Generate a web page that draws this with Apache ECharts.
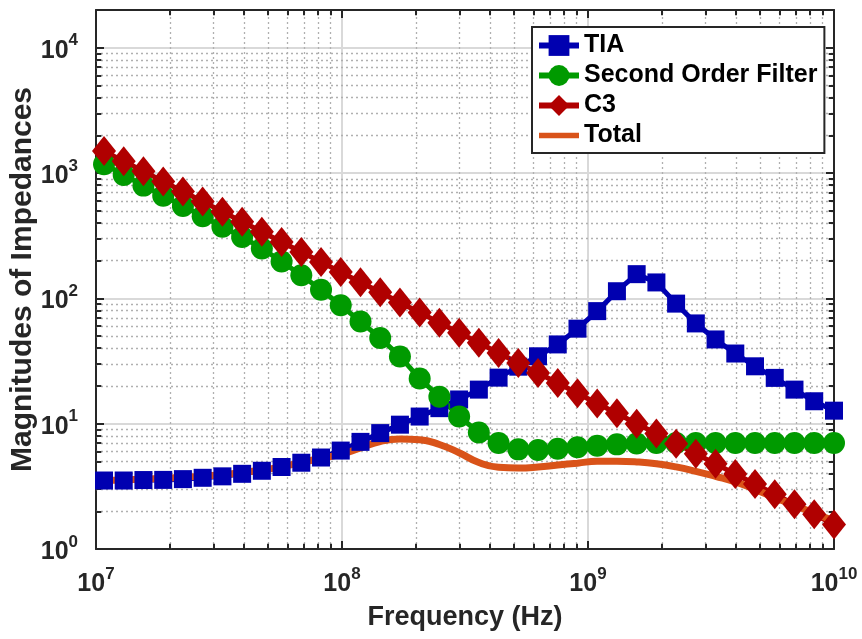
<!DOCTYPE html>
<html>
<head>
<meta charset="utf-8">
<script src="https://cdn.jsdelivr.net/npm/echarts@6/dist/echarts.min.js"></script>
<style>
  html, body { margin: 0; padding: 0; background: #fff; }
  #chart { width: 862px; height: 639px; }
</style>
</head>
<body>
<div id="chart"></div>
<script>
// frequency points (Hz)
const freq = [
    1.078e7, 1.296e7, 1.559e7, 1.876e7, 2.256e7, 2.714e7, 3.265e7, 3.927e7, 4.723e7, 5.681e7,
    6.833e7, 8.218e7, 9.883e7, 1.189e8, 1.430e8, 1.720e8, 2.069e8, 2.488e8, 2.993e8, 3.600e8,
    4.330e8, 5.208e8, 6.263e8, 7.534e8, 9.062e8, 1.090e9, 1.311e9, 1.577e9, 1.897e9, 2.281e9,
    2.744e9, 3.300e9, 3.970e9, 4.775e9, 5.743e9, 6.908e9, 8.309e9, 1.0e10
];
const tia = [
    3.52, 3.52, 3.55, 3.56, 3.61, 3.70, 3.80, 3.98, 4.21, 4.51,
    4.88, 5.37, 6.10, 7.16, 8.41, 9.82, 11.4, 13.3, 15.6, 18.7,
    23.3, 28.5, 34.5, 42.9, 57.3, 79.1, 114, 156, 134, 90.8,
    63.1, 47.0, 36.3, 28.7, 23.2, 18.7, 15.1, 12.7
];
const filter2 = [
    1175, 966, 794, 658, 546, 452, 373, 309, 250, 197,
    153, 117, 88.1, 65.3, 48.3, 34.4, 22.9, 16.4, 11.4, 8.51,
    7.00, 6.24, 6.17, 6.31, 6.49, 6.68, 6.84, 6.95, 7.01, 7.01,
    7.01, 7.01, 7.01, 7.01, 7.01, 7.01, 7.01, 7.01
];
const c3 = [
    1496, 1243, 1033, 858, 713, 592, 492, 409, 340, 282,
    234, 195, 162, 134.5, 111.7, 92.8, 77.1, 64.0, 53.2, 44.2,
    36.7, 30.5, 25.4, 21.1, 17.5, 14.5, 12.1, 10.0, 8.34, 6.93,
    5.75, 4.78, 3.97, 3.30, 2.74, 2.28, 1.89, 1.57
];
const totalFreq = [1.0e7].concat(freq);
const total = [
    3.50,
    3.51, 3.56, 3.61, 3.67, 3.73, 3.82, 3.91, 4.07, 4.27, 4.52,
    4.90, 5.30, 5.69, 6.40, 7.21, 7.55, 7.45, 6.82, 5.86, 4.90,
    4.49, 4.43, 4.51, 4.68, 4.84, 5.01, 5.01, 4.95, 4.79, 4.52,
    4.17, 3.80, 3.43, 2.99, 2.57, 2.24, 1.93, 1.68
];

const xMin = 1e7, xMax = 1e10;
const yMin = 1, yMax = 2e4;
const font = 'Liberation Sans, Arial, Helvetica, sans-serif';
const axisColor = '#262626';

function pairs(xs, ys) {
    return xs.map((x, i) => [x, ys[i]]);
}

function powLabel(v) {
    const e = Math.log10(v);
    const r = Math.round(e);
    if (Math.abs(e - r) > 1e-6) return '';
    return '{b|10}{s|' + r + '}';
}
const labelRich = {
    b: { fontSize: 25, fontWeight: 'bold', fontFamily: font, color: axisColor, lineHeight: 31, verticalAlign: 'bottom' },
    s: { fontSize: 17, fontWeight: 'bold', fontFamily: font, color: axisColor, lineHeight: 17, verticalAlign: 'top' }
};

// minor grid lines + minor ticks (2..9 x 10^k)
const gridLines = [];
const minorX = [], minorY = [];
for (let k = 7; k < 10; k++) {
    for (let m = 2; m <= 9; m++) minorX.push(m * Math.pow(10, k));
}
for (let k = 0; k < 4; k++) {
    for (let m = 2; m <= 9; m++) minorY.push(m * Math.pow(10, k));
}
minorX.forEach(v => {
    gridLines.push({ xAxis: v });
});
minorY.forEach(v => {
    gridLines.push({ yAxis: v });
});
const tickStyle = { type: 'solid', color: axisColor, width: 2 };
const x0 = xMin * 1.001, x1 = xMax / 1.001, y0 = yMin * 1.001, y1 = yMax / 1.001;
minorX.forEach(v => {
    gridLines.push([{ coord: [v, y0], lineStyle: tickStyle }, { coord: [v, y0 * 1.1] }]);
    gridLines.push([{ coord: [v, y1], lineStyle: tickStyle }, { coord: [v, y1 / 1.1] }]);
});
minorY.forEach(v => {
    gridLines.push([{ coord: [x0, v], lineStyle: tickStyle }, { coord: [x0 * 1.05, v] }]);
    gridLines.push([{ coord: [x1, v], lineStyle: tickStyle }, { coord: [x1 / 1.05, v] }]);
});

let myChart = echarts.init(document.getElementById('chart'), null, { renderer: 'canvas' });

let option = {
    animation: false,
    backgroundColor: '#fff',
    grid: { left: 96, right: 28, top: 10, bottom: 90, containLabel: false, outerBoundsMode: 'none' },
    legend: {
        orient: 'vertical',
        left: 532,
        top: 27,
        data: [
            'TIA',
            'Second Order Filter',
            'C3',
            { name: 'Total', icon: 'path://M0,0 M0,10 L42,10 L42,16 L0,16 Z M42,26' }
        ],
        itemWidth: 40,
        itemHeight: 26,
        itemGap: 5,
        padding: [6, 7, 5, 4],
        backgroundColor: '#fff',
        borderColor: axisColor,
        borderWidth: 2,
        borderRadius: 0,
        lineStyle: { width: 6 },
        textStyle: { fontSize: 25, fontWeight: 'bold', fontFamily: font, color: '#000' }
    },
    xAxis: [
        {
            type: 'log', logBase: 10, min: xMin, max: xMax,
            name: 'Frequency (Hz)', nameLocation: 'middle', nameGap: 55, nameMoveOverlap: false,
            nameTextStyle: { fontSize: 27, fontWeight: 'bold', fontFamily: font, color: axisColor },
            axisLine: { show: true, lineStyle: { color: axisColor, width: 2 } },
            axisTick: { show: true, inside: true, length: 8, lineStyle: { color: axisColor, width: 2 } },
            axisLabel: { margin: 17, formatter: powLabel, rich: labelRich },
            splitLine: { show: true, lineStyle: { color: '#d9d9d9', width: 2 } }
        },
        {
            type: 'log', logBase: 10, min: xMin, max: xMax, position: 'top',
            axisLine: { show: true, lineStyle: { color: axisColor, width: 2 } },
            axisTick: { show: true, inside: true, length: 8, lineStyle: { color: axisColor, width: 2 } },
            axisLabel: { show: false },
            splitLine: { show: false }
        }
    ],
    yAxis: [
        {
            type: 'log', logBase: 10, min: yMin, max: yMax,
            name: 'Magnitudes of Impedances', nameLocation: 'middle', nameGap: 58, nameMoveOverlap: false,
            nameTextStyle: { fontSize: 30, fontWeight: 'bold', fontFamily: font, color: axisColor },
            axisLine: { show: true, lineStyle: { color: axisColor, width: 2 } },
            axisTick: { show: true, inside: true, length: 8, lineStyle: { color: axisColor, width: 2 } },
            axisLabel: { margin: 18, formatter: powLabel, rich: labelRich },
            splitLine: { show: true, lineStyle: { color: '#d9d9d9', width: 2 } }
        },
        {
            type: 'log', logBase: 10, min: yMin, max: yMax, position: 'right',
            axisLine: { show: true, lineStyle: { color: axisColor, width: 2 } },
            axisTick: { show: true, inside: true, length: 8, lineStyle: { color: axisColor, width: 2 } },
            axisLabel: { show: false },
            splitLine: { show: false }
        }
    ],
    series: [
        {
            name: 'grid',
            type: 'line',
            data: [],
            z: 1,
            silent: true,
            markLine: {
                z: 1,
                silent: true,
                animation: false,
                symbol: ['none', 'none'],
                label: { show: false },
                lineStyle: { type: [2, 3], color: '#b0b0b0', width: 1.3 },
                emphasis: { disabled: true },
                data: gridLines
            }
        },
        {
            name: 'TIA',
            type: 'line',
            data: pairs(freq, tia),
            symbol: 'rect',
            symbolSize: 18,
            lineStyle: { color: '#0000b0', width: 5 },
            itemStyle: { color: '#0000b0' }
        },
        {
            name: 'Second Order Filter',
            type: 'line',
            data: pairs(freq, filter2),
            symbol: 'circle',
            symbolSize: 22,
            lineStyle: { color: '#009a00', width: 5 },
            itemStyle: { color: '#009a00' }
        },
        {
            name: 'C3',
            type: 'line',
            data: pairs(freq, c3),
            symbol: 'diamond',
            symbolSize: [24, 30],
            lineStyle: { color: '#b00000', width: 5 },
            itemStyle: { color: '#b00000' }
        },
        {
            name: 'Total',
            type: 'line',
            data: pairs(totalFreq, total),
            symbol: 'none',
            smooth: true,
            lineStyle: { color: '#d95319', width: 7 },
            itemStyle: { color: '#d95319' }
        }
    ]
};

myChart.setOption(option);
</script>
</body>
</html>
